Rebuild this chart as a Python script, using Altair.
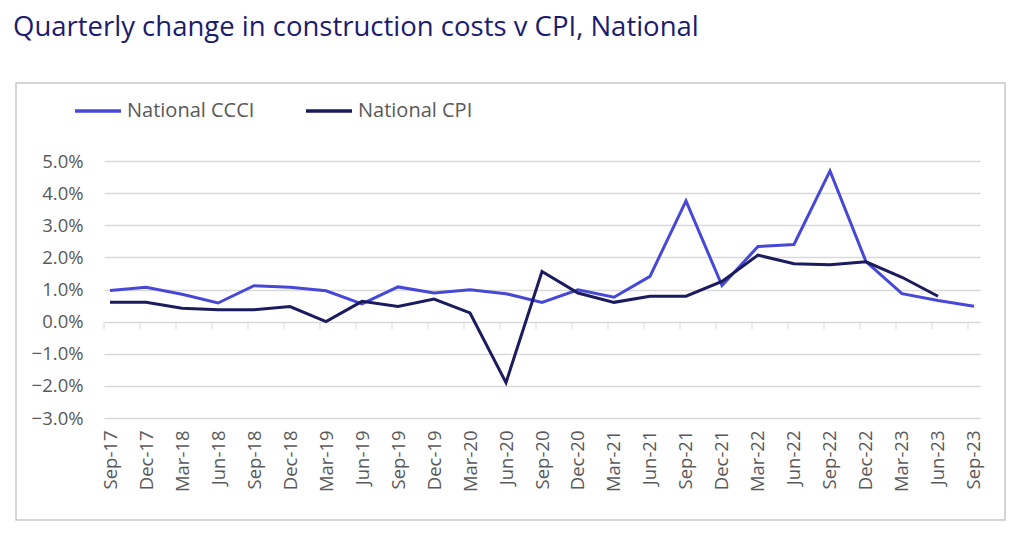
import altair as alt
import pandas as pd

quarters = ["Sep-17", "Dec-17", "Mar-18", "Jun-18", "Sep-18", "Dec-18", "Mar-19", "Jun-19",
            "Sep-19", "Dec-19", "Mar-20", "Jun-20", "Sep-20", "Dec-20", "Mar-21", "Jun-21",
            "Sep-21", "Dec-21", "Mar-22", "Jun-22", "Sep-22", "Dec-22", "Mar-23", "Jun-23", "Sep-23"]
ccci = [0.97, 1.07, 0.85, 0.58, 1.12, 1.07, 0.96, 0.55, 1.08, 0.89, 0.99, 0.87, 0.60, 0.99,
        0.76, 1.41, 3.76, 1.12, 2.34, 2.40, 4.69, 1.87, 0.87, 0.66, 0.48]
cpi = [0.60, 0.60, 0.42, 0.37, 0.37, 0.47, 0.00, 0.63, 0.47, 0.70, 0.27, -1.90, 1.56, 0.89,
       0.60, 0.79, 0.79, 1.25, 2.07, 1.80, 1.77, 1.86, 1.38, 0.79, None]
series_names = ["National CCCI", "National CPI"]
series_colors = ["#4848D8", "#1B1B5E"]
y_ticks = [-0.03, -0.02, -0.01, 0, 0.01, 0.02, 0.03, 0.04, 0.05]

rows = []
for q, a, b in zip(quarters, ccci, cpi):
    rows.append({"quarter": q, "series": series_names[0], "value": a / 100})
    if b is not None:
        rows.append({"quarter": q, "series": series_names[1], "value": b / 100})
df = pd.DataFrame(rows)
tick_df = pd.DataFrame({"quarter": quarters, "value": [0.0] * len(quarters)})

FONT = "Open Sans"
GRAY = "#595959"

x_scale = alt.Scale(type="point", domain=quarters, padding=0.167)
y_scale = alt.Scale(domain=[-0.03, 0.05], nice=False, zero=False)

x_axis = alt.Axis(title=None, labelAngle=-90, ticks=False, domain=False, grid=False,
                  labelFont=FONT, labelFontSize=18.5, labelColor=GRAY, labelPadding=12,
                  labelOverlap=False)
y_axis = alt.Axis(title=None, format=".1%", values=y_ticks, labelOverlap=False,
                  ticks=False, domain=False, grid=True, gridColor="#d9d9d9", gridWidth=1.5,
                  labelFont=FONT, labelFontSize=18.5, labelColor=GRAY, labelPadding=21)

x_enc = alt.X("quarter:N", scale=x_scale, sort=quarters, axis=x_axis)
y_enc = alt.Y("value:Q", scale=y_scale, axis=y_axis)

lines = alt.Chart(df).mark_line(strokeWidth=3, strokeJoin="miter").encode(
    x=x_enc,
    y=y_enc,
    color=alt.Color("series:N", scale=alt.Scale(domain=series_names, range=series_colors),
                    legend=alt.Legend(title=None, orient="none", direction="horizontal",
                                      legendX=-31, legendY=-75, symbolType="stroke",
                                      symbolStrokeWidth=3.5, symbolSize=2116, labelFont=FONT,
                                      labelFontSize=20, labelColor=GRAY, labelOffset=4,
                                      columnPadding=44, labelLimit=300)),
)

zero_ticks = alt.Chart(tick_df).mark_tick(orient="vertical", size=7, thickness=1.5,
                                          color="#d9d9d9", xOffset=-6, yOffset=4).encode(
    x=x_enc,
    y=y_enc,
)

border = alt.Chart(pd.DataFrame({"a": [0]})).mark_rect(fill=None, stroke="#c8c8c8", strokeWidth=1.5).encode(
    x=alt.value(-88), x2=alt.value(901), y=alt.value(-78), y2=alt.value(359)
)

chart = alt.layer(border, zero_ticks, lines).properties(
    width=876, height=257,
    padding={"left": 96, "top": 153, "right": 30, "bottom": 104},
    autosize=alt.AutoSizeParams(type="none"),
    title=alt.TitleParams("Quarterly change in construction costs v CPI, National", anchor="start",
                          frame="group", font=FONT, fontSize=27.5, fontWeight="normal",
                          color="#1C1C6E", dx=-91, offset=41),
).configure_view(stroke=None)

chart.save("out.html", embed_options={"renderer": "svg", "actions": False})
